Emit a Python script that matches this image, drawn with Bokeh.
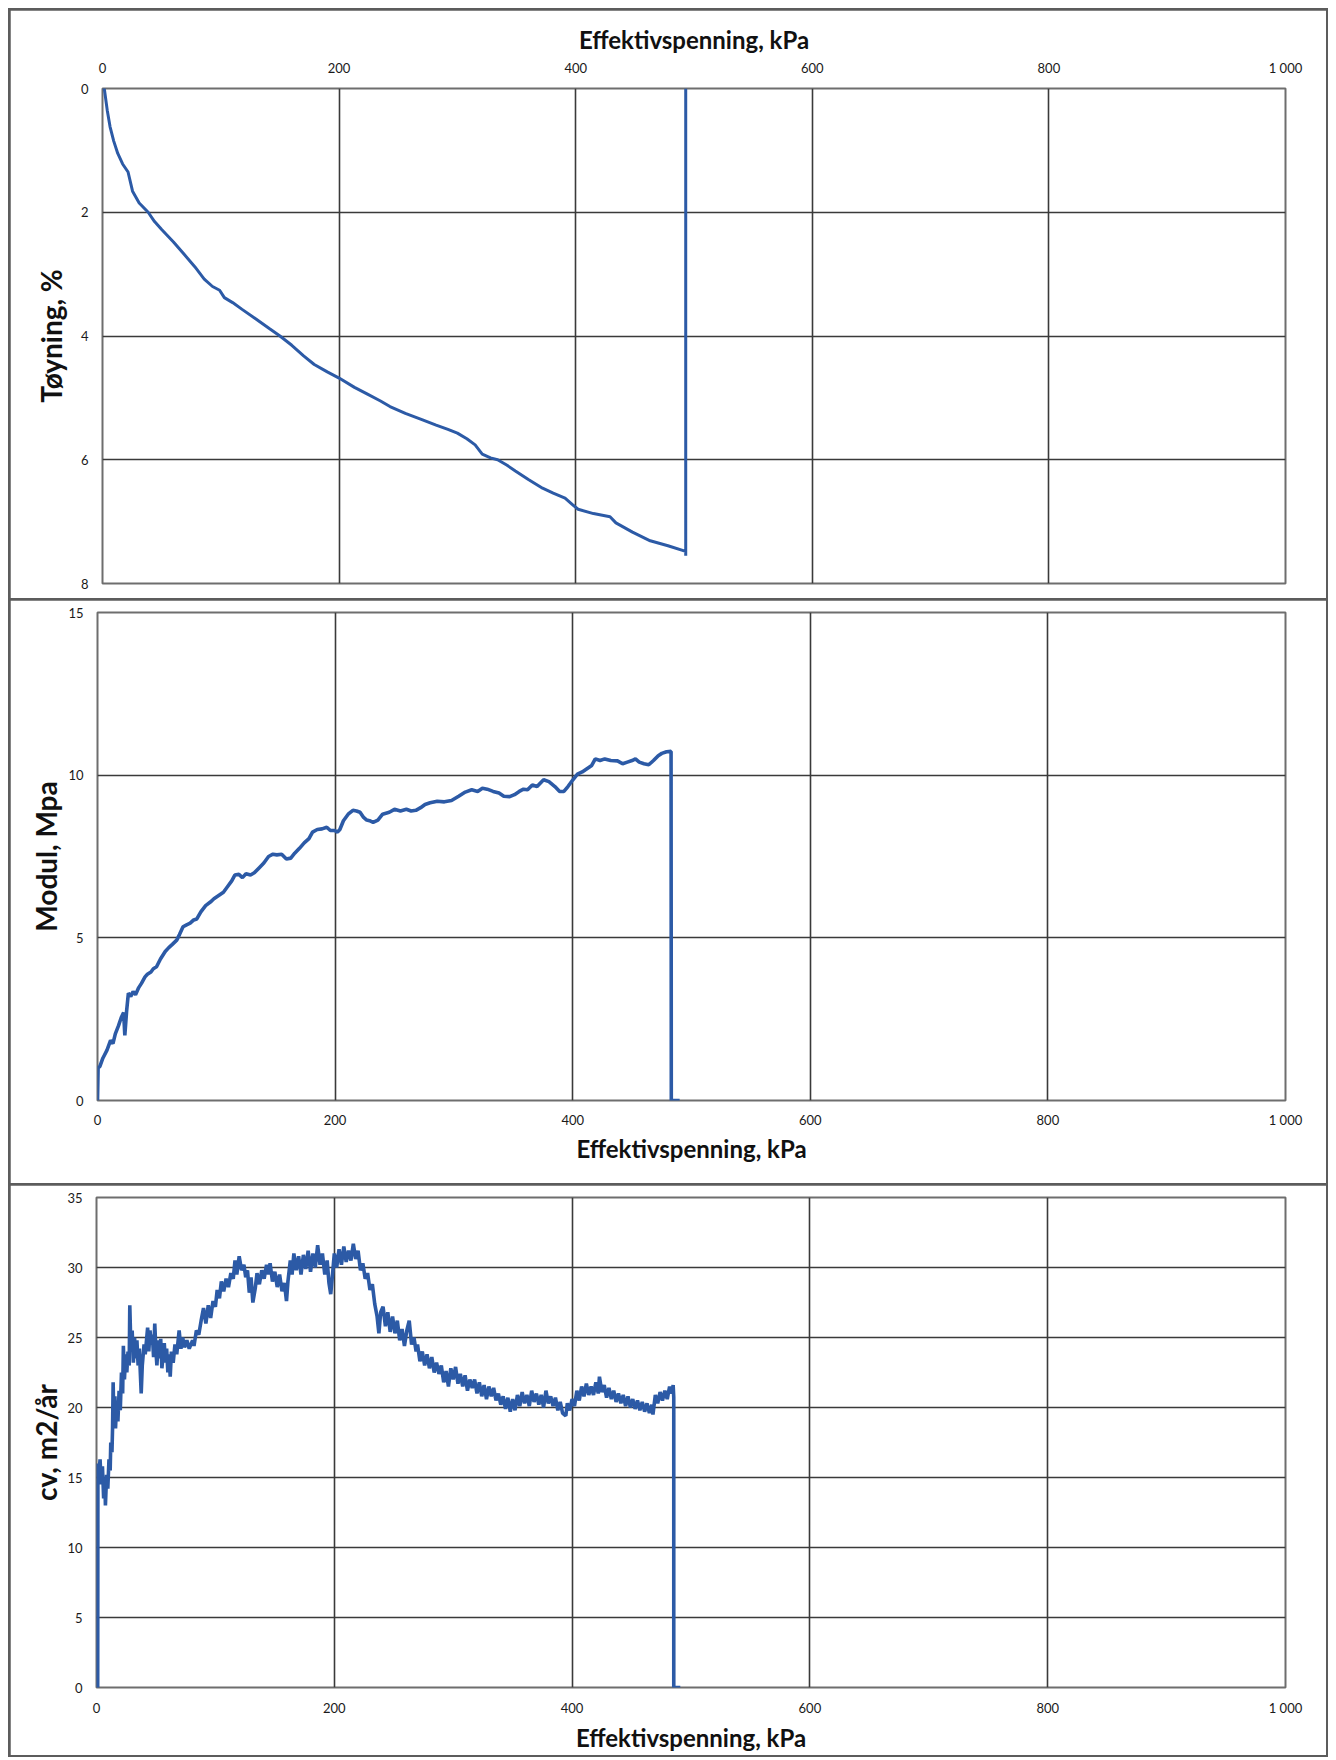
from bokeh.plotting import figure
from bokeh.layouts import column
from bokeh.models import Range1d, FixedTicker
from bokeh.embed import file_html
from bokeh.resources import INLINE

# ---------------- data ----------------
x_ticks = [0, 200, 400, 600, 800, 1000]
x_tick_labels = {0: "0", 200: "200", 400: "400", 600: "600", 800: "800", 1000: "1 000"}
x_title = "Effektivspenning, kPa"

# Panel 1: strain (Tøyning, %) vs effective stress
strain_stress = [0, 1.5, 4, 6.4, 9.5, 12.9, 17, 21.6, 25.4, 31, 38.6, 44, 50, 60, 69, 78, 86,
                 93, 99, 103, 110, 118, 130, 141, 150, 160, 170, 179, 190, 200, 213, 224, 235,
                 243, 256, 270, 282, 292, 300, 308, 315, 321, 328, 334, 342, 349, 360, 372,
                 381, 391, 397, 402, 415, 429, 434, 448, 463, 478, 493, 493, 493]
strain_pct = [0, 0, 0.35, 0.62, 0.85, 1.05, 1.22, 1.35, 1.66, 1.85, 2.0, 2.15, 2.28, 2.48,
              2.68, 2.88, 3.08, 3.2, 3.26, 3.38, 3.46, 3.57, 3.73, 3.88, 4.0, 4.15, 4.32,
              4.46, 4.58, 4.68, 4.83, 4.94, 5.05, 5.14, 5.25, 5.35, 5.44, 5.51, 5.57, 5.66,
              5.76, 5.91, 5.97, 6.0, 6.09, 6.18, 6.32, 6.46, 6.54, 6.62, 6.72, 6.8, 6.87,
              6.92, 7.02, 7.17, 7.31, 7.39, 7.48, 7.55, 0]

# Panel 2: Modul, MPa vs effective stress
modul_stress = [0, 0.5, 2, 4.5, 8, 11, 13, 15, 17.7, 20, 22, 23, 24.5, 26, 28, 30, 32, 34.7,
                37, 40, 42, 45, 47, 49.7, 53, 57, 60, 63, 66.7, 69, 72, 75, 78, 81, 83.6, 87,
                91, 95, 98, 102, 106, 110, 113, 115.6, 119, 122, 125, 128.8, 132, 136, 140,
                144, 147.7, 151, 155, 159, 162.7, 166, 170, 174, 178, 181, 185, 189, 193, 196,
                199.6, 202, 204, 207, 211, 215, 218, 221, 224, 226.6, 229, 232, 236, 240,
                245.6, 250, 255, 260, 264, 268, 272, 275.7, 280, 286, 292, 298, 304, 309.6,
                315, 320, 324, 328, 333, 338, 342, 347, 351, 355, 358.6, 362, 366, 370, 375.5,
                380, 385, 389, 392.6, 396, 400, 404, 408, 412, 416, 419, 423, 427, 432, 437.7,
                442, 446, 450, 452.8, 456, 460, 464, 468, 472, 475, 479, 482.8, 483, 490]
modul_mpa = [0, 1.0, 1.05, 1.3, 1.55, 1.85, 1.75, 2.05, 2.3, 2.55, 2.7, 2.0, 2.75, 3.3, 3.2,
             3.35, 3.25, 3.47, 3.6, 3.8, 3.88, 3.95, 4.05, 4.11, 4.35, 4.58, 4.7, 4.8, 4.93,
             5.1, 5.34, 5.4, 5.45, 5.55, 5.58, 5.8, 5.99, 6.1, 6.2, 6.3, 6.4, 6.6, 6.75, 6.93,
             6.95, 6.85, 6.97, 6.93, 7.0, 7.15, 7.3, 7.5, 7.57, 7.55, 7.57, 7.42, 7.45, 7.6,
             7.75, 7.92, 8.05, 8.25, 8.33, 8.35, 8.4, 8.3, 8.3, 8.25, 8.33, 8.6, 8.8, 8.92,
             8.9, 8.86, 8.7, 8.62, 8.6, 8.55, 8.62, 8.8, 8.86, 8.95, 8.9, 8.95, 8.9, 8.92,
             9.0, 9.1, 9.15, 9.2, 9.18, 9.22, 9.35, 9.48, 9.55, 9.5, 9.6, 9.57, 9.5, 9.45,
             9.35, 9.34, 9.4, 9.5, 9.57, 9.55, 9.7, 9.65, 9.86, 9.8, 9.65, 9.5, 9.5, 9.65,
             9.85, 10.03, 10.1, 10.2, 10.3, 10.5, 10.45, 10.5, 10.45, 10.44, 10.35, 10.4,
             10.45, 10.5, 10.4, 10.35, 10.32, 10.45, 10.6, 10.67, 10.72, 10.73, 0, 0]

# Panel 3: cv, m2/år vs effective stress
cv_stress = [0, 1, 1.2, 2, 3, 4, 5, 6, 7, 7.5, 8.5, 9.5, 10.5, 11.5, 12, 13, 13.5, 14, 14.5,
             15.5, 16, 17, 18, 19, 20, 21, 22, 22.6, 23.5, 24.5, 25.5, 26.5, 27.5, 28, 29,
             30, 31, 32, 33, 34, 35, 36, 37.6, 38.5, 40, 41, 43, 44, 45, 46, 47, 48, 49, 50,
             50.8, 52, 53, 54, 55, 57, 58, 59, 60, 61, 62, 63, 64.5, 66, 67.5, 69.5, 71, 72.5,
             74, 76, 78, 80.8, 82, 84, 86, 88, 90, 92, 94, 96, 98, 100, 101.5, 103.4, 105,
             107, 109, 111, 113, 115, 116.5, 118, 120, 122, 124, 125.5, 127, 128.5, 130,
             131.5, 133.5, 135, 137, 139, 141, 143, 144.7, 146, 148, 150, 152, 154, 156, 158,
             159.8, 161, 163, 164.5, 166, 168, 170, 172, 174, 176, 178, 180, 182, 184, 186,
             188, 190, 192, 194, 195.5, 197, 198.5, 200, 202, 204, 206, 208, 210, 212, 214,
             216, 218, 220, 222, 224, 226, 228, 230, 232, 234, 236, 237.5, 239, 241, 243,
             245, 247, 249, 251, 253, 255, 257, 259, 261, 263, 265, 267, 268.8, 270, 272,
             274, 276, 278, 280, 282, 284, 286, 288, 290, 292, 294, 296, 298, 300, 302, 304,
             306, 308, 310, 312, 314, 316, 318, 320, 322, 324, 326, 328, 330, 332, 334, 336,
             338, 340, 342, 344, 346, 348, 350, 352, 354, 356, 358, 360, 362, 364, 366, 368,
             370, 372, 374, 376, 378, 380, 382, 384, 386, 388, 390, 392, 394.7, 396, 398,
             400, 402, 404, 406, 408, 410, 412, 414, 416, 418, 420, 422, 423, 425, 427, 429,
             431, 433, 435, 437, 439, 441, 443, 445, 447, 449, 451, 453, 455, 457, 459, 461,
             463, 465, 467, 468, 470, 472, 474, 476, 478, 480, 482, 484, 485, 485.5, 485.5,
             491]
cv_m2 = [0, 0, 16, 15.2, 16.3, 14.5, 15.8, 13.5, 14.8, 13.0, 15.2, 14.2, 16.3, 15.5, 17.5,
         16.8, 18.5, 21.8, 19.5, 20.8, 18.5, 20.5, 19, 21.2, 19.8, 22.5, 21, 24.4, 22, 23.8,
         22.5, 24, 23, 27.3, 24, 25.5, 23.2, 25, 23.5, 24.8, 23, 24.2, 21, 23, 24.5, 23.8,
         25.7, 24, 25.5, 24.5, 25.2, 23.6, 26, 24, 23, 24.8, 23.5, 24.9, 22.8, 24.6, 23.2,
         24.2, 22.5, 23.8, 22.2, 24, 23.2, 24.5, 23.8, 25.5, 24.2, 25, 24.3, 24.8, 24.2,
         24.8, 24.4, 25.5, 25.2, 26.2, 27.1, 26, 27.3, 26.4, 27.6, 27.2, 28.4, 27.8, 29,
         28.3, 29.2, 28.6, 29.6, 29.2, 30.5, 29.5, 30.8, 29.8, 30.2, 29.3, 29.8, 28.2, 29.3,
         27.5, 28.5, 29.6, 28.8, 29.8, 29.2, 30.2, 29.5, 30.3, 29, 29.7, 28.6, 29.5, 28.3,
         28.9, 27.6, 29, 30.5, 29.5, 31, 29.8, 30.8, 29.5, 30.9, 29.9, 31.2, 29.7, 31, 30,
         31.6, 30.2, 31, 29.5, 30.5, 28.9, 28.1, 29.5, 31, 30, 31.3, 30.2, 31.5, 30.4, 31.2,
         30.5, 31.7, 30.6, 31.2, 29.8, 30.3, 29.2, 29.6, 28.4, 28.8, 27.4, 26.5, 25.3, 26.8,
         27.2, 25.8, 26.8, 25.4, 26.5, 25.3, 26.2, 24.8, 25.6, 24.4, 25.5, 26.2, 24.5, 25,
         24, 24.5, 23.3, 24, 23, 23.8, 22.8, 23.6, 22.5, 23.2, 22.4, 23, 21.8, 22.6, 21.5,
         22.8, 22, 22.9, 21.7, 22.4, 21.5, 22.3, 21.2, 22, 21.4, 22, 21, 21.8, 20.8, 21.6,
         20.6, 21.5, 20.8, 21.4, 20.5, 21, 20.2, 20.8, 19.9, 20.7, 19.7, 20.6, 19.8, 20.9,
         20.1, 21.1, 20.3, 20.9, 20.1, 21.2, 20.4, 21, 20.2, 20.9, 20, 21.2, 20.3, 20.8,
         20.1, 20.7, 19.8, 20.4, 19.6, 19.4, 20.3, 19.8, 20.6, 20.1, 21.2, 20.5, 21.5, 20.8,
         21.7, 20.9, 21.5, 20.9, 21.8, 21, 22.2, 21.1, 21.6, 20.7, 21.4, 20.6, 21.2, 20.4,
         21, 20.3, 20.9, 20.1, 20.8, 20, 20.6, 19.9, 20.5, 19.8, 20.4, 19.7, 20.3, 19.6,
         20.2, 19.5, 20.9, 20.3, 21.1, 20.5, 21.2, 20.6, 21.5, 21, 21.6, 20.7, 0, 0]

modul_ticks = [0, 5, 10, 15]
strain_ticks = [0, 2, 4, 6, 8]
cv_ticks = [0, 5, 10, 15, 20, 25, 30, 35]

# ---------------- style ----------------
BLUE = "#2c5aa6"
GRID = "#3a3a3a"
FRAME = "#6e6e6e"
BOX = "#5c5c5c"
FONT = "Lato"
W = 1316


def style(p, ylabel, yticks, ylab_standoff, xlab_standoff, xtick_standoff):
    p.x_range = Range1d(0, 1000)
    p.outline_line_color = FRAME
    p.outline_line_width = 2
    p.background_fill_color = "white"
    p.border_fill_color = "white"
    for ax in p.xaxis + p.yaxis:
        ax.axis_line_color = None
        ax.major_tick_line_color = None
        ax.minor_tick_line_color = None
        ax.major_label_text_font = FONT
        ax.major_label_text_font_size = "13px"
        ax.major_label_text_color = "#1a1a1a"
        ax.axis_label_text_font = FONT
        ax.axis_label_text_font_style = "bold"
        ax.axis_label_text_color = "#111111"
    xa = p.xaxis[0]
    xa.ticker = FixedTicker(ticks=x_ticks)
    xa.major_label_overrides = x_tick_labels
    xa.major_label_standoff = xtick_standoff
    xa.axis_label = x_title
    xa.axis_label_standoff = xlab_standoff
    xa.axis_label_text_font_size = "24px"
    ya = p.yaxis[0]
    ya.ticker = FixedTicker(ticks=yticks)
    ya.major_label_standoff = 8
    ya.axis_label = ylabel
    ya.axis_label_standoff = ylab_standoff
    ya.axis_label_text_font_size = "28px"
    p.xgrid.ticker = FixedTicker(ticks=x_ticks)
    p.ygrid.ticker = FixedTicker(ticks=yticks)
    for g in (p.xgrid[0], p.ygrid[0]):
        g.grid_line_color = GRID
        g.grid_line_width = 1.6
    p.toolbar.logo = None


# Panel 1
p1 = figure(width=W, height=588, output_backend="svg", toolbar_location=None,
            x_axis_location="above", min_border_left=92, min_border_right=41,
            min_border_top=78, min_border_bottom=15)
p1.y_range = Range1d(8, 0)
style(p1, "Tøyning, %", strain_ticks, 10, 3, 7)
p1.line(strain_stress, strain_pct, line_color=BLUE, line_width=3)

# Panel 2
p2 = figure(width=W, height=583, output_backend="svg", toolbar_location=None,
            min_border_left=87, min_border_right=41, min_border_top=12,
            min_border_bottom=83)
p2.y_range = Range1d(0, 15)
style(p2, "Modul, Mpa", modul_ticks, 2, 3, 5)
p2.line(modul_stress, modul_mpa, line_color=BLUE, line_width=3.6)

# Panel 3
p3 = figure(width=W, height=570, output_backend="svg", toolbar_location=None,
            min_border_left=86, min_border_right=41, min_border_top=12,
            min_border_bottom=68)
p3.y_range = Range1d(0, 35)
style(p3, "cv, m2/år", cv_ticks, 1, 4, 6)
p3.line(cv_stress, cv_m2, line_color=BLUE, line_width=3.6)

# each panel is its own root, so the plot frames are not aligned to each other
r1 = column(p1, styles={"background-color": BOX, "padding": "2px",
                        "margin-left": "8px", "margin-top": "8px"})
r2 = column(p2, styles={"background-color": BOX, "padding": "0px 2px 2px 2px",
                        "margin-left": "8px"})
r3 = column(p3, styles={"background-color": BOX, "padding": "0px 2px 2px 2px",
                        "margin-left": "8px"})

open("out.html", "w").write(file_html([r1, r2, r3], INLINE))
